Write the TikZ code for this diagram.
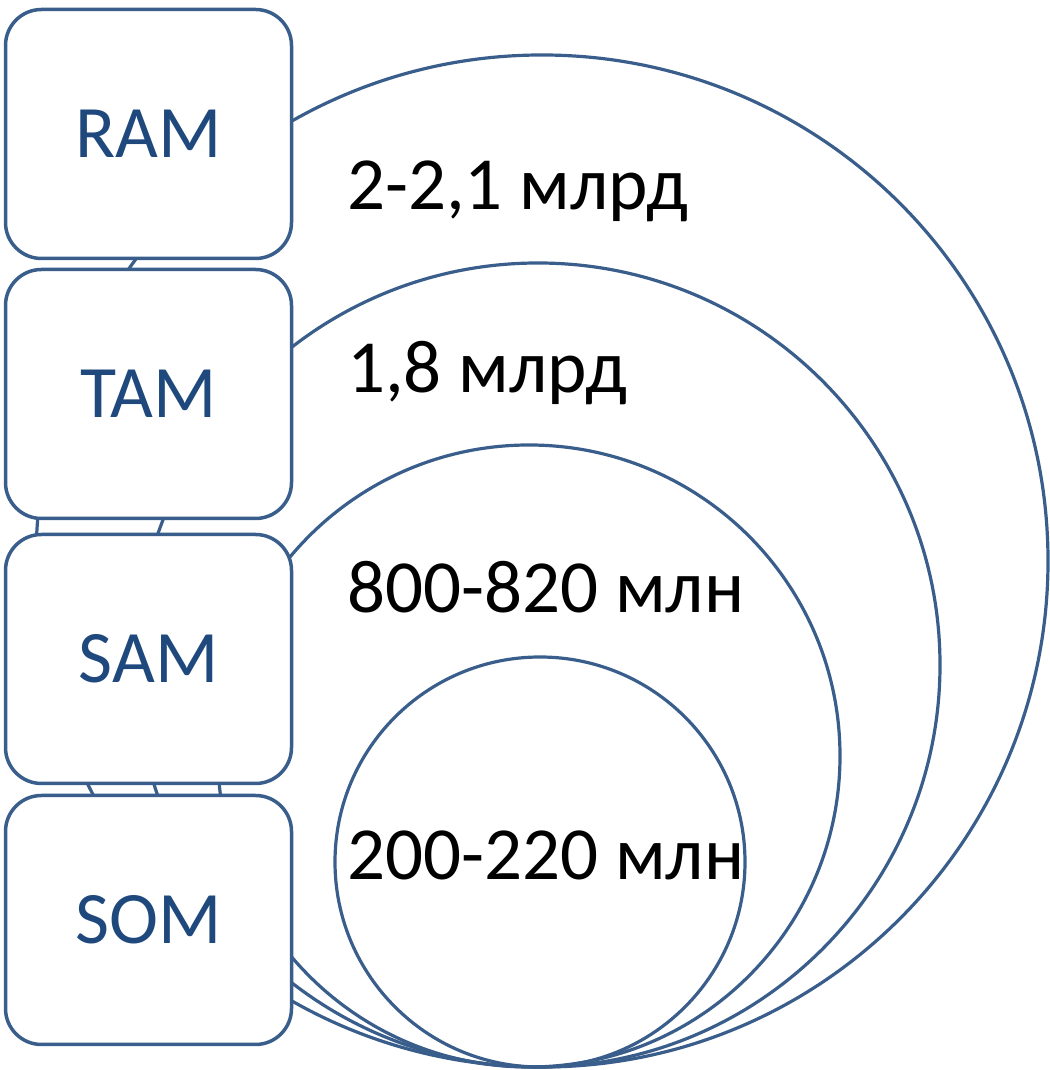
\documentclass[tikz,border=0pt]{standalone}
\usepackage{fontspec}
\setmainfont{Carlito}
\usetikzlibrary{positioning}
\definecolor{lineblue}{HTML}{3A5E8C}
\definecolor{textblue}{HTML}{1F497D}
\tikzset{
  mbox/.style={draw=lineblue, line width=3.5pt, fill=white, rounded corners=36pt,
    minimum width=286pt, minimum height=249pt, text=textblue,
    font=\fontsize{74}{80}\selectfont},
  ring/.style={draw=lineblue, line width=3.2pt},
  amount/.style={anchor=base west, inner sep=0pt, font=\fontsize{75}{80}\selectfont}
}
\begin{document}
\begin{tikzpicture}[x=1pt,y=1pt]
\useasboundingbox (0,0) rectangle (1049,1070);
% markets, all touching at the bottom
\foreach \cx/\r in {542/506,538/402,529/311,540/205}
  \draw[ring] (\cx,3+\r) circle[radius=\r];
\node[amount] (ramv) at (347,860) {2-2,1 млрд};
\node[amount] (tamv) at (347,677) {1,8 млрд};
\node[amount] (samv) at (347,457) {800-820 млн};
\node[amount] (somv) at (347,190) {200-220 млн};
% labels
\node[mbox] (ram) at (148.5,936) {RAM};
\node[mbox] (tam) at (148.5,676) {TAM};
\node[mbox] (sam) at (148.5,411) {SAM};
\node[mbox] (som) at (148.5,150) {SOM};
\end{tikzpicture}
\end{document}
